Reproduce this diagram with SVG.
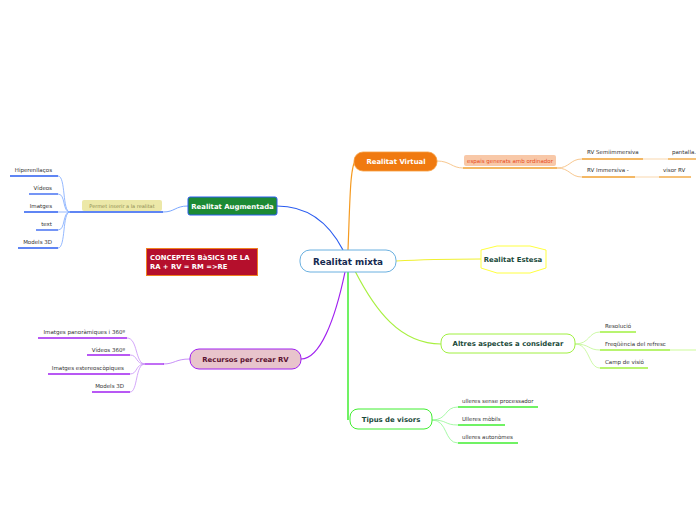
<svg xmlns="http://www.w3.org/2000/svg" width="696" height="520" viewBox="0 0 696 520">
<style>
text{font-family:"DejaVu Sans","Liberation Sans",sans-serif}
.t{font-size:5.5px;fill:#333}
.b{font-weight:bold;font-size:6.9px;text-anchor:middle}
.c{fill:none}
</style>
<rect width="696" height="520" fill="#fff"/>
<g id="connectors" class="c">
<path d="M348,250 C350,200 350,165 356,160" stroke="#f59a20" stroke-width="1.2"/>
<path d="M343,250 C330,225 310,206 277,206" stroke="#2a5cf0" stroke-width="1.2"/>
<path d="M396,261 C430,259 450,259 481,259" stroke="#f0f030" stroke-width="1.2"/>
<path d="M355,271 C375,310 400,344 441,344" stroke="#a8f040" stroke-width="1.2"/>
<path d="M348,272 L348,420" stroke="#40ee30" stroke-width="1.5"/>
<path d="M345,272 C335,320 320,359 301,359" stroke="#a020f0" stroke-width="1.2"/>
<path d="M437,161 C450,161 452,168 463,168" stroke="#f8c890" stroke-width="1"/>
<path d="M557,168 C570,168 570,159 582,159 M557,168 C570,168 570,177 582,177" stroke="#f8c890" stroke-width="1"/>
<path d="M188,206 C175,206 175,212 163,212" stroke="#7aa7ff" stroke-width="1"/>
<path d="M70,212 C62,212 66,176 58,176 M70,212 C62,212 66,194 58,194 M70,212 L58,212 M70,212 C62,212 66,230 58,230 M70,212 C62,212 66,248 58,248" stroke="#7aa7ff" stroke-width="0.8"/>
<path d="M575,344 C590,344 588,332 600,332 M575,344 C590,344 588,350 600,350 M575,344 C590,344 588,368 600,368" stroke="#c0f890" stroke-width="0.8"/>
<path d="M432,420 C448,420 444,407 458,407 M432,420 C448,420 444,425 458,425 M432,420 C448,420 444,443 458,443" stroke="#90f890" stroke-width="0.8"/>
<path d="M190,359 C175,359 175,364 163,364" stroke="#c890f8" stroke-width="1"/>
<path d="M145,364 C135,364 138,338 127,338 M145,364 C135,364 138,355 130,355 M145,364 C135,364 138,374 130,374 M145,364 C135,364 138,392 130,392" stroke="#c890f8" stroke-width="0.8"/>
</g>
<g id="center">
<rect x="300" y="250" width="96" height="22" rx="10" fill="#fff" stroke="#6ab0e0" stroke-width="1"/>
<text x="348" y="264.5" class="b" style="font-size:8.8px" fill="#152a50">Realitat mixta</text>
</g>
<g id="rv">
<rect x="354" y="152" width="83" height="19" rx="9" fill="#f07a10" stroke="#f8a040" stroke-width="0.8"/>
<text x="396" y="163.8" class="b" fill="#fff">Realitat Virtual</text>
</g>
<g id="rv-label">
<rect x="464" y="155" width="92" height="11" rx="2" fill="#f8c8a8"/>
<text x="510" y="162.5" class="t" text-anchor="middle" style="fill:#e84a20">espais generats amb ordinador</text>
<line x1="463" y1="168" x2="557" y2="168" stroke="#f0a030" stroke-width="1.3"/>
</g>
<g id="rv-semi">
<text x="587" y="154" class="t">RV Semiimmersiva</text>
<text x="672" y="154" class="t">pantalla.</text>
<line x1="582" y1="159" x2="643" y2="159" stroke="#f0a030" stroke-width="1.3"/>
<line x1="643" y1="159" x2="668" y2="159" stroke="#fbe0c0" stroke-width="1.3"/>
<line x1="668" y1="159" x2="696" y2="159" stroke="#f0a030" stroke-width="1.3"/>
</g>
<g id="rv-imm">
<text x="587" y="172" class="t">RV Immersiva -</text>
<text x="663" y="172" class="t">visor RV</text>
<line x1="582" y1="177" x2="635" y2="177" stroke="#f0a030" stroke-width="1.3"/>
<line x1="635" y1="177" x2="659" y2="177" stroke="#fbe0c0" stroke-width="1.3"/>
<line x1="659" y1="177" x2="691" y2="177" stroke="#f0a030" stroke-width="1.3"/>
</g>
<g id="ra">
<rect x="188" y="197" width="89" height="18" rx="2" fill="#1c8a34" stroke="#2a5cf0" stroke-width="1"/>
<text x="232.5" y="208.5" class="b" fill="#fff">Realitat Augmentada</text>
</g>
<g id="ra-label">
<rect x="82" y="200" width="80" height="11" rx="2" fill="#ece8a8"/>
<text x="122" y="207.5" class="t" text-anchor="middle" style="fill:#8a8a50;font-size:5px">Permet inserir a la realitat</text>
<line x1="70" y1="212" x2="163" y2="212" stroke="#2a5cf0" stroke-width="1.3"/>
</g>
<g id="ra-children">
<text x="52" y="172" class="t" text-anchor="end">Hiperenllaços</text>
<line x1="10" y1="176" x2="58" y2="176" stroke="#2a5cf0" stroke-width="1.3"/>
<text x="52" y="190" class="t" text-anchor="end">Vídeos</text>
<line x1="29" y1="194" x2="58" y2="194" stroke="#2a5cf0" stroke-width="1.3"/>
<text x="52" y="208" class="t" text-anchor="end">Imatges</text>
<line x1="24" y1="212" x2="58" y2="212" stroke="#2a5cf0" stroke-width="1.3"/>
<text x="52" y="226" class="t" text-anchor="end">text</text>
<line x1="36" y1="230" x2="58" y2="230" stroke="#2a5cf0" stroke-width="1.3"/>
<text x="52" y="244" class="t" text-anchor="end">Models 3D</text>
<line x1="18" y1="248" x2="58" y2="248" stroke="#2a5cf0" stroke-width="1.3"/>
</g>
<g id="conceptes">
<rect x="146.5" y="248.5" width="111" height="27" fill="#b50f2c" stroke="#f08020" stroke-width="1"/>
<text x="150" y="259.5" style="font-size:6.8px;font-weight:bold" fill="#fff">CONCEPTES BàSICS DE LA</text>
<text x="150" y="269" style="font-size:6.8px;font-weight:bold" fill="#fff">RA + RV = RM =&gt;RE</text>
</g>
<g id="estesa">
<polygon points="481,250 497,246 530,246 546,250 546,268 530,273 497,273 481,268" fill="#fff" stroke="#ffff40" stroke-width="1"/>
<text x="513" y="262.3" class="b" fill="#1a4a3a">Realitat Estesa</text>
</g>
<g id="altres">
<rect x="441" y="334" width="134" height="19" rx="8" fill="#fff" stroke="#a0f040" stroke-width="1"/>
<text x="508" y="346.3" class="b" fill="#1a4a3a">Altres aspectes a considerar</text>
</g>
<g id="altres-children">
<text x="605" y="328" class="t">Resolució</text>
<line x1="600" y1="332" x2="636" y2="332" stroke="#a0f040" stroke-width="1.3"/>
<text x="605" y="346" class="t">Freqüència del refresc</text>
<line x1="600" y1="350" x2="670" y2="350" stroke="#a0f040" stroke-width="1.3"/>
<line x1="670" y1="350" x2="696" y2="350" stroke="#d8fcb0" stroke-width="1.3"/>
<text x="605" y="364" class="t">Camp de visió</text>
<line x1="600" y1="368" x2="648" y2="368" stroke="#a0f040" stroke-width="1.3"/>
</g>
<g id="tipus">
<rect x="350" y="409" width="82" height="20" rx="8" fill="#fff" stroke="#40ee30" stroke-width="1"/>
<text x="391" y="421.5" class="b" fill="#1a4a3a">Tipus de visors</text>
</g>
<g id="tipus-children">
<text x="462" y="403" class="t">ulleres sense processador</text>
<line x1="458" y1="407" x2="538" y2="407" stroke="#40ee30" stroke-width="1.3"/>
<text x="462" y="421" class="t">Ulleres mòbils</text>
<line x1="458" y1="425" x2="505" y2="425" stroke="#40ee30" stroke-width="1.3"/>
<text x="462" y="439" class="t">ulleres autonòmes</text>
<line x1="458" y1="443" x2="518" y2="443" stroke="#40ee30" stroke-width="1.3"/>
</g>
<g id="recursos">
<rect x="190" y="349" width="111" height="20" rx="9" fill="#e8c4cc" stroke="#a020f0" stroke-width="1"/>
<text x="245.5" y="361.5" class="b" fill="#5a1030">Recursos per crear RV</text>
</g>
<g id="recursos-join">
<line x1="145" y1="364" x2="164" y2="364" stroke="#a020f0" stroke-width="1.3"/>
</g>
<g id="recursos-children">
<text x="125" y="334" class="t" text-anchor="end">Imatges panoràmiques i 360º</text>
<line x1="38" y1="338" x2="127" y2="338" stroke="#a020f0" stroke-width="1.3"/>
<text x="125" y="352" class="t" text-anchor="end">Vídeos 360º</text>
<line x1="87" y1="355" x2="130" y2="355" stroke="#a020f0" stroke-width="1.3"/>
<text x="124" y="370" class="t" text-anchor="end">Imatges estereoscòpiques</text>
<line x1="48" y1="374" x2="130" y2="374" stroke="#a020f0" stroke-width="1.3"/>
<text x="124" y="388" class="t" text-anchor="end">Models 3D</text>
<line x1="92" y1="392" x2="130" y2="392" stroke="#a020f0" stroke-width="1.3"/>
</g>
</svg>
